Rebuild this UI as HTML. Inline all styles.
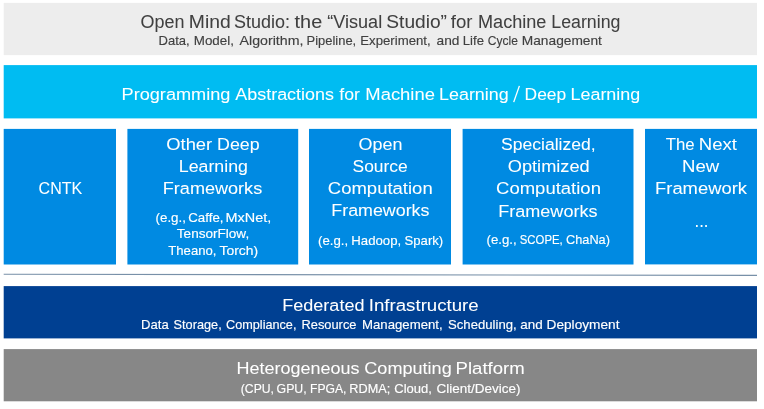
<!DOCTYPE html>
<html lang="en">
<head>
<meta charset="utf-8">
<title>Open Mind Studio</title>
<style>
html,body{margin:0;padding:0;background:#fff;}
body{width:764px;height:409px;overflow:hidden;font-family:"Liberation Sans",sans-serif;}
svg{display:block;}
svg text{font-family:"Liberation Sans",sans-serif;white-space:pre;}
</style>
</head>
<body>
<svg width="764" height="409" viewBox="0 0 764 409">
<rect x="0" y="0" width="764" height="409" fill="#FFFFFF"/>
<defs><filter id="edge" x="-2%" y="-2%" width="104%" height="104%"><feGaussianBlur stdDeviation="0.45"/></filter></defs>
<g filter="url(#edge)">
<rect x="3.7" y="2.9" width="753.3" height="52.2" fill="#EDEDED"/>
<rect x="3.7" y="65.1" width="753.3" height="53.3" fill="#00BCF2"/>
<rect x="3.7" y="128.9" width="112.3" height="135.6" fill="#038AE2"/>
<rect x="127.4" y="128.9" width="170.8" height="135.6" fill="#038AE2"/>
<rect x="309" y="128.9" width="142" height="135.6" fill="#038AE2"/>
<rect x="462.6" y="128.9" width="170.9" height="135.6" fill="#038AE2"/>
<rect x="645" y="128.9" width="112" height="135.5" fill="#038AE2"/>
<rect x="3.7" y="286.1" width="753.3" height="52.3" fill="#003F92"/>
<rect x="3.7" y="349.1" width="753.3" height="52.2" fill="#878787"/>
<line x1="3.7" y1="274.3" x2="757" y2="275.4" stroke="#7890A8" stroke-width="1.1"/>
</g>
<defs><filter id="soft" x="-2%" y="-20%" width="104%" height="140%"><feGaussianBlur stdDeviation="0.55"/></filter></defs>
<g filter="url(#soft)">
<text x="140.55" y="28.20" font-size="17.5" fill="#404040" stroke="#404040" stroke-width="0.05" textLength="43.90" lengthAdjust="spacingAndGlyphs">Open</text>
<text x="188.80" y="28.20" font-size="17.5" fill="#404040" stroke="#404040" stroke-width="0.05" textLength="41.90" lengthAdjust="spacingAndGlyphs">Mind</text>
<text x="234.05" y="28.20" font-size="17.5" fill="#404040" stroke="#404040" stroke-width="0.05" textLength="55.90" lengthAdjust="spacingAndGlyphs">Studio:</text>
<text x="294.55" y="28.20" font-size="17.5" fill="#404040" stroke="#404040" stroke-width="0.05" textLength="27.65" lengthAdjust="spacingAndGlyphs">the</text>
<text x="327.30" y="28.20" font-size="17.5" fill="#404040" stroke="#404040" stroke-width="0.05" textLength="54.90" lengthAdjust="spacingAndGlyphs">“Visual</text>
<text x="386.30" y="28.20" font-size="17.5" fill="#404040" stroke="#404040" stroke-width="0.05" textLength="60.65" lengthAdjust="spacingAndGlyphs">Studio”</text>
<text x="450.80" y="28.20" font-size="17.5" fill="#404040" stroke="#404040" stroke-width="0.05" textLength="21.65" lengthAdjust="spacingAndGlyphs">for</text>
<text x="478.05" y="28.20" font-size="17.5" fill="#404040" stroke="#404040" stroke-width="0.05" textLength="68.40" lengthAdjust="spacingAndGlyphs">Machine</text>
<text x="551.30" y="28.20" font-size="17.5" fill="#404040" stroke="#404040" stroke-width="0.05" textLength="69.15" lengthAdjust="spacingAndGlyphs">Learning</text>
<text x="158.55" y="45.40" font-size="13.5" fill="#404040" stroke="#404040" stroke-width="0.15" textLength="31.15" lengthAdjust="spacingAndGlyphs">Data,</text>
<text x="193.80" y="45.40" font-size="13.5" fill="#404040" stroke="#404040" stroke-width="0.15" textLength="40.15" lengthAdjust="spacingAndGlyphs">Model,</text>
<text x="239.55" y="45.40" font-size="13.5" fill="#404040" stroke="#404040" stroke-width="0.15" textLength="63.90" lengthAdjust="spacingAndGlyphs">Algorithm,</text>
<text x="306.55" y="45.40" font-size="13.5" fill="#404040" stroke="#404040" stroke-width="0.15" textLength="49.65" lengthAdjust="spacingAndGlyphs">Pipeline,</text>
<text x="360.30" y="45.40" font-size="13.5" fill="#404040" stroke="#404040" stroke-width="0.15" textLength="70.40" lengthAdjust="spacingAndGlyphs">Experiment,</text>
<text x="436.55" y="45.40" font-size="13.5" fill="#404040" stroke="#404040" stroke-width="0.15" textLength="22.90" lengthAdjust="spacingAndGlyphs">and</text>
<text x="462.80" y="45.40" font-size="13.5" fill="#404040" stroke="#404040" stroke-width="0.15" textLength="21.15" lengthAdjust="spacingAndGlyphs">Life</text>
<text x="487.80" y="45.40" font-size="13.5" fill="#404040" stroke="#404040" stroke-width="0.15" textLength="30.15" lengthAdjust="spacingAndGlyphs">Cycle</text>
<text x="521.80" y="45.40" font-size="13.5" fill="#404040" stroke="#404040" stroke-width="0.15" textLength="80.15" lengthAdjust="spacingAndGlyphs">Management</text>
<text x="121.55" y="99.50" font-size="16.8" fill="#FFFFFF" stroke="#FFFFFF" stroke-width="0.05" textLength="108.90" lengthAdjust="spacingAndGlyphs">Programming</text>
<text x="235.30" y="99.50" font-size="16.8" fill="#FFFFFF" stroke="#FFFFFF" stroke-width="0.05" textLength="98.65" lengthAdjust="spacingAndGlyphs">Abstractions</text>
<text x="339.30" y="99.50" font-size="16.8" fill="#FFFFFF" stroke="#FFFFFF" stroke-width="0.05" textLength="20.65" lengthAdjust="spacingAndGlyphs">for</text>
<text x="365.30" y="99.50" font-size="16.8" fill="#FFFFFF" stroke="#FFFFFF" stroke-width="0.05" textLength="69.65" lengthAdjust="spacingAndGlyphs">Machine</text>
<text x="439.05" y="99.50" font-size="16.8" fill="#FFFFFF" stroke="#FFFFFF" stroke-width="0.05" textLength="69.65" lengthAdjust="spacingAndGlyphs">Learning</text>
<text x="524.55" y="99.50" font-size="16.8" fill="#FFFFFF" stroke="#FFFFFF" stroke-width="0.05" textLength="41.65" lengthAdjust="spacingAndGlyphs">Deep</text>
<text x="570.55" y="99.50" font-size="16.8" fill="#FFFFFF" stroke="#FFFFFF" stroke-width="0.05" textLength="69.65" lengthAdjust="spacingAndGlyphs">Learning</text>
<text x="38.55" y="194.40" font-size="16.8" fill="#FFFFFF" stroke="#FFFFFF" stroke-width="0.05" textLength="43.65" lengthAdjust="spacingAndGlyphs">CNTK</text>
<text x="166.30" y="150.40" font-size="16.8" fill="#FFFFFF" stroke="#FFFFFF" stroke-width="0.05" textLength="45.90" lengthAdjust="spacingAndGlyphs">Other</text>
<text x="217.05" y="150.40" font-size="16.8" fill="#FFFFFF" stroke="#FFFFFF" stroke-width="0.05" textLength="42.65" lengthAdjust="spacingAndGlyphs">Deep</text>
<text x="178.80" y="172.40" font-size="16.8" fill="#FFFFFF" stroke="#FFFFFF" stroke-width="0.05" textLength="69.15" lengthAdjust="spacingAndGlyphs">Learning</text>
<text x="162.80" y="194.00" font-size="16.8" fill="#FFFFFF" stroke="#FFFFFF" stroke-width="0.05" textLength="99.40" lengthAdjust="spacingAndGlyphs">Frameworks</text>
<text x="155.55" y="221.90" font-size="13.5" fill="#FFFFFF" stroke="#FFFFFF" stroke-width="0.15" textLength="30.40" lengthAdjust="spacingAndGlyphs">(e.g.,</text>
<text x="188.30" y="221.90" font-size="13.5" fill="#FFFFFF" stroke="#FFFFFF" stroke-width="0.15" textLength="35.15" lengthAdjust="spacingAndGlyphs">Caffe,</text>
<text x="225.55" y="221.90" font-size="13.5" fill="#FFFFFF" stroke="#FFFFFF" stroke-width="0.15" textLength="45.65" lengthAdjust="spacingAndGlyphs">MxNet,</text>
<text x="176.80" y="238.20" font-size="13.5" fill="#FFFFFF" stroke="#FFFFFF" stroke-width="0.15" textLength="72.40" lengthAdjust="spacingAndGlyphs">TensorFlow,</text>
<text x="168.30" y="255.40" font-size="13.5" fill="#FFFFFF" stroke="#FFFFFF" stroke-width="0.15" textLength="48.15" lengthAdjust="spacingAndGlyphs">Theano,</text>
<text x="219.55" y="255.40" font-size="13.5" fill="#FFFFFF" stroke="#FFFFFF" stroke-width="0.15" textLength="38.65" lengthAdjust="spacingAndGlyphs">Torch)</text>
<text x="358.55" y="150.00" font-size="16.8" fill="#FFFFFF" stroke="#FFFFFF" stroke-width="0.05" textLength="43.90" lengthAdjust="spacingAndGlyphs">Open</text>
<text x="352.55" y="172.10" font-size="16.8" fill="#FFFFFF" stroke="#FFFFFF" stroke-width="0.05" textLength="55.15" lengthAdjust="spacingAndGlyphs">Source</text>
<text x="327.80" y="194.00" font-size="16.8" fill="#FFFFFF" stroke="#FFFFFF" stroke-width="0.05" textLength="104.90" lengthAdjust="spacingAndGlyphs">Computation</text>
<text x="331.30" y="216.40" font-size="16.8" fill="#FFFFFF" stroke="#FFFFFF" stroke-width="0.05" textLength="98.15" lengthAdjust="spacingAndGlyphs">Frameworks</text>
<text x="318.05" y="244.50" font-size="13.5" fill="#FFFFFF" stroke="#FFFFFF" stroke-width="0.15" textLength="30.15" lengthAdjust="spacingAndGlyphs">(e.g.,</text>
<text x="351.30" y="244.50" font-size="13.5" fill="#FFFFFF" stroke="#FFFFFF" stroke-width="0.15" textLength="49.90" lengthAdjust="spacingAndGlyphs">Hadoop,</text>
<text x="404.55" y="244.50" font-size="13.5" fill="#FFFFFF" stroke="#FFFFFF" stroke-width="0.15" textLength="38.65" lengthAdjust="spacingAndGlyphs">Spark)</text>
<text x="501.05" y="150.10" font-size="16.8" fill="#FFFFFF" stroke="#FFFFFF" stroke-width="0.05" textLength="94.65" lengthAdjust="spacingAndGlyphs">Specialized,</text>
<text x="507.80" y="172.00" font-size="16.8" fill="#FFFFFF" stroke="#FFFFFF" stroke-width="0.05" textLength="81.90" lengthAdjust="spacingAndGlyphs">Optimized</text>
<text x="496.05" y="193.80" font-size="16.8" fill="#FFFFFF" stroke="#FFFFFF" stroke-width="0.05" textLength="104.90" lengthAdjust="spacingAndGlyphs">Computation</text>
<text x="498.30" y="216.50" font-size="16.8" fill="#FFFFFF" stroke="#FFFFFF" stroke-width="0.05" textLength="99.15" lengthAdjust="spacingAndGlyphs">Frameworks</text>
<text x="486.55" y="244.40" font-size="13.5" fill="#FFFFFF" stroke="#FFFFFF" stroke-width="0.15" textLength="30.15" lengthAdjust="spacingAndGlyphs">(e.g.,</text>
<text x="519.80" y="244.40" font-size="13.5" fill="#FFFFFF" stroke="#FFFFFF" stroke-width="0.15" textLength="42.90" lengthAdjust="spacingAndGlyphs">SCOPE,</text>
<text x="566.05" y="244.40" font-size="13.5" fill="#FFFFFF" stroke="#FFFFFF" stroke-width="0.15" textLength="43.90" lengthAdjust="spacingAndGlyphs">ChaNa)</text>
<text x="665.80" y="150.00" font-size="16.8" fill="#FFFFFF" stroke="#FFFFFF" stroke-width="0.05" textLength="28.90" lengthAdjust="spacingAndGlyphs">The</text>
<text x="698.80" y="150.00" font-size="16.8" fill="#FFFFFF" stroke="#FFFFFF" stroke-width="0.05" textLength="38.15" lengthAdjust="spacingAndGlyphs">Next</text>
<text x="682.05" y="172.00" font-size="16.8" fill="#FFFFFF" stroke="#FFFFFF" stroke-width="0.05" textLength="37.15" lengthAdjust="spacingAndGlyphs">New</text>
<text x="655.05" y="194.20" font-size="16.8" fill="#FFFFFF" stroke="#FFFFFF" stroke-width="0.05" textLength="91.90" lengthAdjust="spacingAndGlyphs">Framework</text>
<text x="694.55" y="227.00" font-size="18" fill="#FFFFFF" stroke="#FFFFFF" stroke-width="0.05" textLength="13.90" lengthAdjust="spacingAndGlyphs">...</text>
<text x="282.30" y="310.50" font-size="16.8" fill="#FFFFFF" stroke="#FFFFFF" stroke-width="0.05" textLength="82.15" lengthAdjust="spacingAndGlyphs">Federated</text>
<text x="368.80" y="310.50" font-size="16.8" fill="#FFFFFF" stroke="#FFFFFF" stroke-width="0.05" textLength="109.90" lengthAdjust="spacingAndGlyphs">Infrastructure</text>
<text x="141.05" y="329.40" font-size="13.5" fill="#FFFFFF" stroke="#FFFFFF" stroke-width="0.15" textLength="27.65" lengthAdjust="spacingAndGlyphs">Data</text>
<text x="173.55" y="329.40" font-size="13.5" fill="#FFFFFF" stroke="#FFFFFF" stroke-width="0.15" textLength="48.15" lengthAdjust="spacingAndGlyphs">Storage,</text>
<text x="226.05" y="329.40" font-size="13.5" fill="#FFFFFF" stroke="#FFFFFF" stroke-width="0.15" textLength="70.40" lengthAdjust="spacingAndGlyphs">Compliance,</text>
<text x="301.55" y="329.40" font-size="13.5" fill="#FFFFFF" stroke="#FFFFFF" stroke-width="0.15" textLength="54.90" lengthAdjust="spacingAndGlyphs">Resource</text>
<text x="362.05" y="329.40" font-size="13.5" fill="#FFFFFF" stroke="#FFFFFF" stroke-width="0.15" textLength="80.65" lengthAdjust="spacingAndGlyphs">Management,</text>
<text x="448.05" y="329.40" font-size="13.5" fill="#FFFFFF" stroke="#FFFFFF" stroke-width="0.15" textLength="68.65" lengthAdjust="spacingAndGlyphs">Scheduling,</text>
<text x="520.30" y="329.40" font-size="13.5" fill="#FFFFFF" stroke="#FFFFFF" stroke-width="0.15" textLength="22.40" lengthAdjust="spacingAndGlyphs">and</text>
<text x="546.55" y="329.40" font-size="13.5" fill="#FFFFFF" stroke="#FFFFFF" stroke-width="0.15" textLength="72.90" lengthAdjust="spacingAndGlyphs">Deployment</text>
<text x="236.55" y="374.30" font-size="16.8" fill="#FFFFFF" stroke="#FFFFFF" stroke-width="0.05" textLength="122.90" lengthAdjust="spacingAndGlyphs">Heterogeneous</text>
<text x="364.30" y="374.30" font-size="16.8" fill="#FFFFFF" stroke="#FFFFFF" stroke-width="0.05" textLength="87.40" lengthAdjust="spacingAndGlyphs">Computing</text>
<text x="455.55" y="374.30" font-size="16.8" fill="#FFFFFF" stroke="#FFFFFF" stroke-width="0.05" textLength="69.15" lengthAdjust="spacingAndGlyphs">Platform</text>
<text x="240.80" y="393.00" font-size="13.5" fill="#FFFFFF" stroke="#FFFFFF" stroke-width="0.15" textLength="33.15" lengthAdjust="spacingAndGlyphs">(CPU,</text>
<text x="276.55" y="393.00" font-size="13.5" fill="#FFFFFF" stroke="#FFFFFF" stroke-width="0.15" textLength="30.15" lengthAdjust="spacingAndGlyphs">GPU,</text>
<text x="310.05" y="393.00" font-size="13.5" fill="#FFFFFF" stroke="#FFFFFF" stroke-width="0.15" textLength="36.40" lengthAdjust="spacingAndGlyphs">FPGA,</text>
<text x="349.30" y="393.00" font-size="13.5" fill="#FFFFFF" stroke="#FFFFFF" stroke-width="0.15" textLength="40.90" lengthAdjust="spacingAndGlyphs">RDMA;</text>
<text x="394.30" y="393.00" font-size="13.5" fill="#FFFFFF" stroke="#FFFFFF" stroke-width="0.15" textLength="37.65" lengthAdjust="spacingAndGlyphs">Cloud,</text>
<text x="436.55" y="393.00" font-size="13.5" fill="#FFFFFF" stroke="#FFFFFF" stroke-width="0.15" textLength="83.90" lengthAdjust="spacingAndGlyphs">Client/Device)</text>
<line x1="513.7" y1="102.1" x2="519.4" y2="85.9" stroke="#FFFFFF" stroke-width="1.35"/>
</g>
</svg>
</body>
</html>
